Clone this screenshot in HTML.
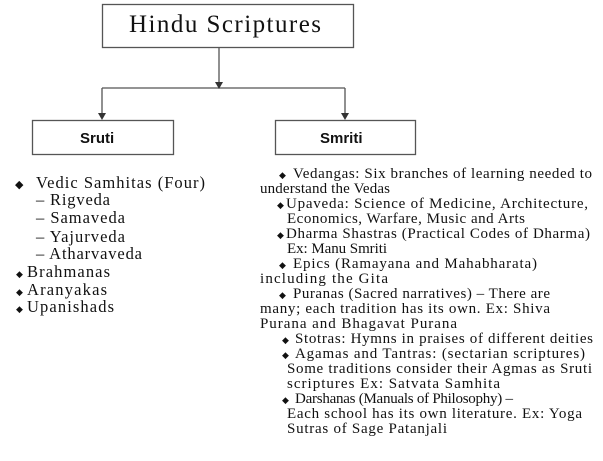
<!DOCTYPE html>
<html><head><meta charset="utf-8"><style>
html,body{margin:0;padding:0;background:#fff;width:603px;height:461px;overflow:hidden}
svg{display:block}
.s{font-family:"Liberation Serif",serif;font-size:16.5px;fill:#111}
.r{font-family:"Liberation Serif",serif;font-size:15px;fill:#111}
.b{font-family:"Liberation Sans",sans-serif;font-weight:bold;font-size:15px;fill:#111}
</style></head><body>
<svg width="603" height="461" viewBox="0 0 603 461" xmlns="http://www.w3.org/2000/svg">
<g stroke="#555" stroke-width="1.3" fill="none">
<rect x="102.5" y="4.5" width="251" height="43"/>
<rect x="32.5" y="120.5" width="141" height="34"/>
<rect x="275.5" y="120.5" width="140" height="34"/>
<line x1="219" y1="48" x2="219" y2="84"/>
<line x1="102" y1="88" x2="345" y2="88"/>
<line x1="102" y1="88" x2="102" y2="114"/>
<line x1="345" y1="88" x2="345" y2="114"/>
</g>
<g fill="#333">
<path d="M215,82 L223,82 L219,89 z"/>
<path d="M98,113 L106,113 L102,120 z"/>
<path d="M341,113 L349,113 L345,120 z"/>
</g>
<text x="129" y="32" font-family="Liberation Serif,serif" font-size="25" fill="#111" textLength="192">Hindu Scriptures</text>
<text class="b" x="80" y="143">Sruti</text>
<text class="b" x="320" y="143">Smriti</text>

<g class="s">
<text x="15" y="188" font-size="11">◆</text><text x="36" y="188" textLength="169">Vedic Samhitas (Four)</text>
<text x="36" y="205" textLength="74">– Rigveda</text>
<text x="36" y="223" textLength="89">– Samaveda</text>
<text x="36" y="242" textLength="89">– Yajurveda</text>
<text x="36" y="259" textLength="106">– Atharvaveda</text>
<text x="16" y="277" font-size="9">◆</text><text x="27" y="277" textLength="83">Brahmanas</text>
<text x="16" y="295" font-size="9">◆</text><text x="27" y="295" textLength="80">Aranyakas</text>
<text x="16" y="312" font-size="9">◆</text><text x="27" y="312" textLength="87">Upanishads</text>
</g>

<g class="r">
<text x="279" y="178" font-size="9">◆</text><text x="293" y="178" textLength="299">Vedangas: Six branches of learning needed to</text>
<text x="260" y="193" textLength="130">understand the Vedas</text>
<text x="277" y="208" font-size="9">◆</text><text x="286" y="208" textLength="302">Upaveda: Science of Medicine, Architecture,</text>
<text x="287" y="223" textLength="238">Economics, Warfare, Music and Arts</text>
<text x="277" y="238" font-size="9">◆</text><text x="286" y="238" textLength="304">Dharma Shastras (Practical Codes of Dharma)</text>
<text x="287" y="253" textLength="100">Ex:  Manu Smriti</text>
<text x="279" y="268" font-size="9">◆</text><text x="293" y="268" textLength="244">Epics (Ramayana and Mahabharata)</text>
<text x="260" y="283" textLength="128">including    the Gita</text>
<text x="279" y="298" font-size="9">◆</text><text x="293" y="298" textLength="257">Puranas (Sacred narratives) – There are</text>
<text x="260" y="313" textLength="290">many; each tradition has its own.   Ex: Shiva</text>
<text x="260" y="328" textLength="197">Purana and Bhagavat Purana</text>
<text x="282" y="343" font-size="9">◆</text><text x="295" y="343" textLength="298">Stotras: Hymns in praises of different deities</text>
<text x="282" y="358" font-size="9">◆</text><text x="295" y="358" textLength="290">Agamas and Tantras: (sectarian scriptures)</text>
<text x="287" y="373" textLength="305">Some traditions consider their Agmas as Sruti</text>
<text x="287" y="388" textLength="213">scriptures Ex: Satvata Samhita</text>
<text x="282" y="403" font-size="9">◆</text><text x="295" y="403" textLength="218">Darshanas (Manuals of Philosophy) –</text>
<text x="287" y="418" textLength="295">Each school has its own literature. Ex: Yoga</text>
<text x="287" y="433" textLength="160">Sutras of Sage Patanjali</text>
</g>
</svg>
</body></html>
